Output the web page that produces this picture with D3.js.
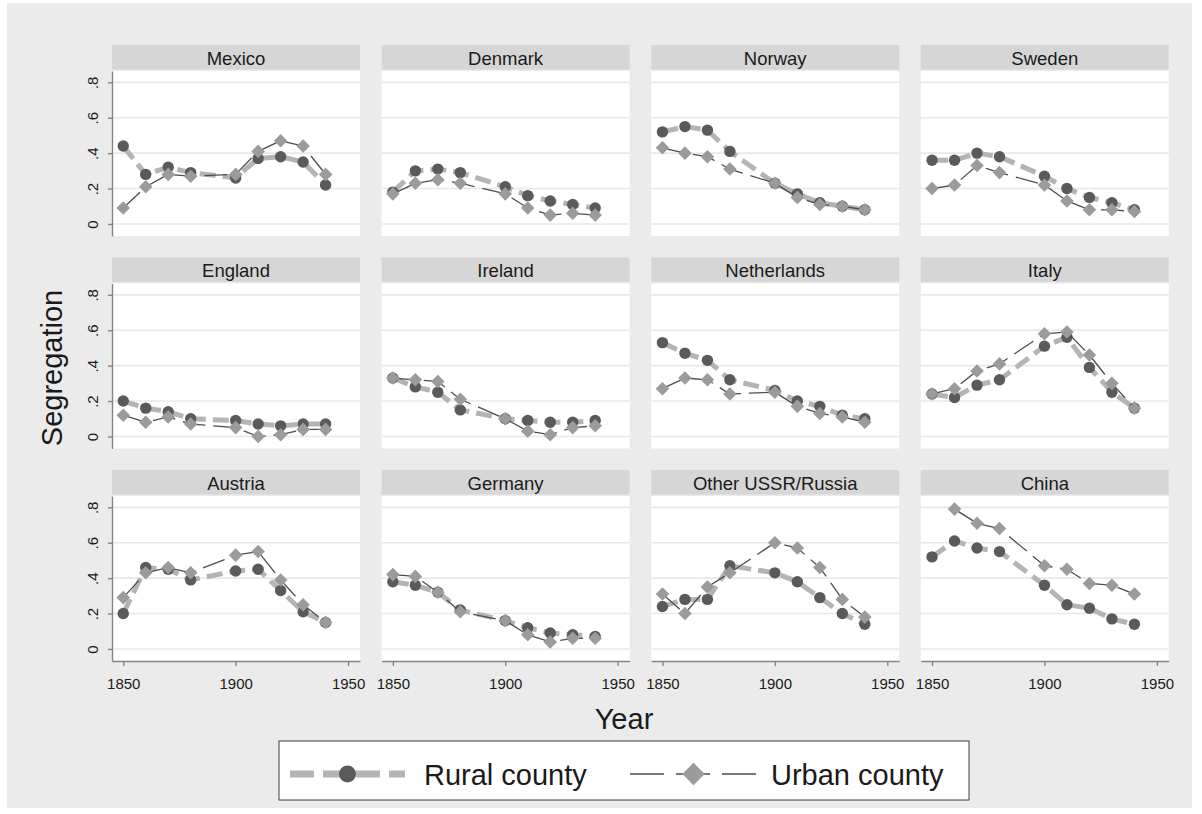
<!DOCTYPE html>
<html>
<head>
<meta charset="utf-8">
<script src="https://cdn.jsdelivr.net/npm/d3@7"></script>
<style>
  html, body { margin: 0; padding: 0; background: #ffffff; }
  svg { display: block; font-family: "Liberation Sans", Arial, sans-serif; }
</style>
</head>
<body>
<svg id="chart" width="1202" height="814"></svg>
<script>
// Panels, in reading order (4 per row)
const countries = ["Mexico", "Denmark", "Norway", "Sweden",
                   "England", "Ireland", "Netherlands", "Italy",
                   "Austria", "Germany", "Other USSR/Russia", "China"];

// Census years shown on every panel
const years = [1850, 1860, 1870, 1880, 1900, 1910, 1920, 1930, 1940];

// Segregation index, rural counties (one row per country, same order as countries)
const ruralSeg = [
  [0.44, 0.28, 0.32, 0.29, 0.26, 0.37, 0.38, 0.35, 0.22],  // Mexico
  [0.18, 0.30, 0.31, 0.29, 0.21, 0.16, 0.13, 0.11, 0.09],  // Denmark
  [0.52, 0.55, 0.53, 0.41, 0.23, 0.17, 0.12, 0.10, 0.08],  // Norway
  [0.36, 0.36, 0.40, 0.38, 0.27, 0.20, 0.15, 0.12, 0.08],  // Sweden
  [0.20, 0.16, 0.14, 0.10, 0.09, 0.07, 0.06, 0.07, 0.07],  // England
  [0.33, 0.28, 0.25, 0.15, 0.10, 0.09, 0.08, 0.08, 0.09],  // Ireland
  [0.53, 0.47, 0.43, 0.32, 0.26, 0.20, 0.17, 0.12, 0.10],  // Netherlands
  [0.24, 0.22, 0.29, 0.32, 0.51, 0.56, 0.39, 0.25, 0.16],  // Italy
  [0.20, 0.46, 0.45, 0.39, 0.44, 0.45, 0.33, 0.21, 0.15],  // Austria
  [0.38, 0.36, 0.32, 0.22, 0.16, 0.12, 0.09, 0.08, 0.07],  // Germany
  [0.24, 0.28, 0.28, 0.47, 0.43, 0.38, 0.29, 0.20, 0.14],  // Other USSR/Russia
  [0.52, 0.61, 0.57, 0.55, 0.36, 0.25, 0.23, 0.17, 0.14]   // China
];

// Segregation index, urban counties (null = not observed)
const urbanSeg = [
  [0.09, 0.21, 0.28, 0.27, 0.28, 0.41, 0.47, 0.44, 0.28],  // Mexico
  [0.17, 0.23, 0.25, 0.23, 0.17, 0.09, 0.05, 0.06, 0.05],  // Denmark
  [0.43, 0.40, 0.38, 0.31, 0.23, 0.15, 0.11, 0.10, 0.08],  // Norway
  [0.20, 0.22, 0.33, 0.29, 0.22, 0.13, 0.08, 0.08, 0.07],  // Sweden
  [0.12, 0.08, 0.11, 0.07, 0.05, 0.00, 0.01, 0.04, 0.04],  // England
  [0.33, 0.32, 0.31, 0.21, 0.10, 0.03, 0.01, 0.05, 0.06],  // Ireland
  [0.27, 0.33, 0.32, 0.24, 0.25, 0.17, 0.13, 0.11, 0.08],  // Netherlands
  [0.24, 0.27, 0.37, 0.41, 0.58, 0.59, 0.46, 0.30, 0.16],  // Italy
  [0.29, 0.43, 0.46, 0.43, 0.53, 0.55, 0.39, 0.25, 0.15],  // Austria
  [0.42, 0.41, 0.32, 0.21, 0.16, 0.08, 0.04, 0.06, 0.06],  // Germany
  [0.31, 0.20, 0.35, 0.43, 0.60, 0.57, 0.46, 0.28, 0.18],  // Other USSR/Russia
  [null, 0.79, 0.71, 0.68, 0.47, 0.45, 0.37, 0.36, 0.31]   // China
];

const yTickValues = [0, 0.2, 0.4, 0.6, 0.8];
const yTickLabels = ["0", ".2", ".4", ".6", ".8"];
const xTickValues = [1850, 1900, 1950];
const seriesNames = ["Rural county", "Urban county"];
const xTitle = "Year";
const yTitle = "Segregation";

// ---- layout ----
const svg = d3.select("#chart");
const nCols = 4;
const panelW = 248;
const colStep = 269.6;
const rowStep = 212.5;
const firstLeft = 112;
const firstTop = 45;
const stripH = 24.5;
const plotTopOff = 26;
const plotBotOff = 191;

const ruralStyle = { line: "#b4b4b4", lineW: 5, dash: "16,7", marker: "#5a5a5a" };
const urbanStyle = { line: "#4d4d4d", lineW: 1.3, dash: "23,8", marker: "#9b9b9b" };

// page background
svg.append("rect").attr("x", 7).attr("y", 3).attr("width", 1185).attr("height", 805)
  .attr("fill", "#ebebeb");

const diamond = d3.symbol().type(d3.symbolSquare).size(92);

countries.forEach((name, i) => {
  const col = i % nCols, row = Math.floor(i / nCols);
  const left = firstLeft + col * colStep;
  const top = firstTop + row * rowStep;

  const x = d3.scaleLinear().domain([1845, 1955.3]).range([left, left + panelW]);
  const y = d3.scaleLinear().domain([-0.068, 0.864]).range([top + plotBotOff, top + plotTopOff]);

  const g = svg.append("g").attr("class", "panel");

  // strip with the country name
  g.append("rect").attr("x", left).attr("y", top).attr("width", panelW).attr("height", stripH)
    .attr("fill", "#d6d6d6");
  g.append("text").attr("x", left + panelW / 2).attr("y", top + 19.5)
    .attr("text-anchor", "middle").attr("font-size", 18.5).attr("fill", "#1a1a1a")
    .text(name);

  // plot region
  g.append("rect").attr("x", left).attr("y", top + plotTopOff).attr("width", panelW)
    .attr("height", plotBotOff - plotTopOff).attr("fill", "#ffffff");

  // horizontal grid
  g.selectAll("line.grid").data(yTickValues).join("line").attr("class", "grid")
    .attr("x1", left).attr("x2", left + panelW)
    .attr("y1", d => y(d)).attr("y2", d => y(d))
    .attr("stroke", "#e8e8e8").attr("stroke-width", 1.6);

  // y axis on the first column
  if (col === 0) {
    const ay = g.append("g").attr("transform", `translate(${left},0)`)
      .call(d3.axisLeft(y).tickValues(yTickValues).tickFormat((d, k) => yTickLabels[k])
        .tickSize(4).tickSizeOuter(0));
    ay.select(".domain").attr("stroke", "#858585").attr("stroke-width", 1.4);
    ay.selectAll(".tick line").attr("stroke", "#858585").attr("stroke-width", 1.4);
    ay.selectAll(".tick text").attr("transform", "rotate(-90)")
      .attr("x", 0).attr("y", -14).attr("dy", null).attr("text-anchor", "middle")
      .attr("font-size", 15).attr("fill", "#1a1a1a")
      .attr("font-family", "Liberation Sans, Arial, sans-serif");
  }

  // x axis on the last row
  if (row === 2) {
    const ax = g.append("g").attr("transform", `translate(0,${top + plotBotOff})`)
      .call(d3.axisBottom(x).tickValues(xTickValues).tickFormat(d3.format("d"))
        .tickSize(5).tickSizeOuter(0));
    ax.select(".domain").attr("stroke", "#858585").attr("stroke-width", 1.4);
    ax.selectAll(".tick line").attr("stroke", "#858585").attr("stroke-width", 1.4);
    ax.selectAll(".tick text").attr("y", 17).attr("dy", "0.71em")
      .attr("font-size", 15).attr("fill", "#1a1a1a")
      .attr("font-family", "Liberation Sans, Arial, sans-serif");
  }

  const series = [
    { vals: ruralSeg[i], style: ruralStyle, kind: "circle" },
    { vals: urbanSeg[i], style: urbanStyle, kind: "diamond" }
  ];

  series.forEach(s => {
    const pts = years.map((yr, k) => ({ yr, v: s.vals[k] }));
    const line = d3.line().defined(d => d.v != null).x(d => x(d.yr)).y(d => y(d.v));
    g.append("path").datum(pts).attr("d", line).attr("fill", "none")
      .attr("stroke", s.style.line).attr("stroke-width", s.style.lineW)
      .attr("stroke-dasharray", s.style.dash);
    const valid = pts.filter(d => d.v != null);
    if (s.kind === "circle") {
      g.selectAll(null).data(valid).join("circle")
        .attr("cx", d => x(d.yr)).attr("cy", d => y(d.v)).attr("r", 5.7)
        .attr("fill", s.style.marker);
    } else {
      g.selectAll(null).data(valid).join("path")
        .attr("d", diamond)
        .attr("transform", d => `translate(${x(d.yr)},${y(d.v)}) rotate(45)`)
        .attr("fill", s.style.marker);
    }
  });
});

// axis titles
svg.append("text").attr("x", 624).attr("y", 729).attr("text-anchor", "middle")
  .attr("font-size", 29).attr("fill", "#1a1a1a").text(xTitle);
svg.append("text").attr("transform", "translate(62,368) rotate(-90)")
  .attr("text-anchor", "middle").attr("font-size", 29).attr("fill", "#1a1a1a").text(yTitle);

// legend
const legend = svg.append("g");
legend.append("rect").attr("x", 279).attr("y", 741).attr("width", 690).attr("height", 59)
  .attr("fill", "#ffffff").attr("stroke", "#3c3c3c").attr("stroke-width", 1);

const legendItems = [
  { name: seriesNames[0], style: ruralStyle, kind: "circle", x0: 290, x1: 405, tx: 424 },
  { name: seriesNames[1], style: urbanStyle, kind: "diamond", x0: 630, x1: 757, tx: 771 }
];
const ly = 774;
legendItems.forEach(it => {
  legend.append("line").attr("x1", it.x0).attr("x2", it.x1).attr("y1", ly).attr("y2", ly)
    .attr("stroke", it.style.line)
    .attr("stroke-width", it.kind === "circle" ? 7 : 1.6)
    .attr("stroke-dasharray", it.kind === "circle" ? "24,9" : "34,12");
  const mx = (it.x0 + it.x1) / 2;
  if (it.kind === "circle") {
    legend.append("circle").attr("cx", mx).attr("cy", ly).attr("r", 8.5).attr("fill", it.style.marker);
  } else {
    legend.append("path").attr("d", d3.symbol().type(d3.symbolSquare).size(250))
      .attr("transform", `translate(${mx},${ly}) rotate(45)`).attr("fill", it.style.marker);
  }
  legend.append("text").attr("x", it.tx).attr("y", ly + 11).attr("font-size", 29)
    .attr("fill", "#1a1a1a").text(it.name);
});
</script>
</body>
</html>
